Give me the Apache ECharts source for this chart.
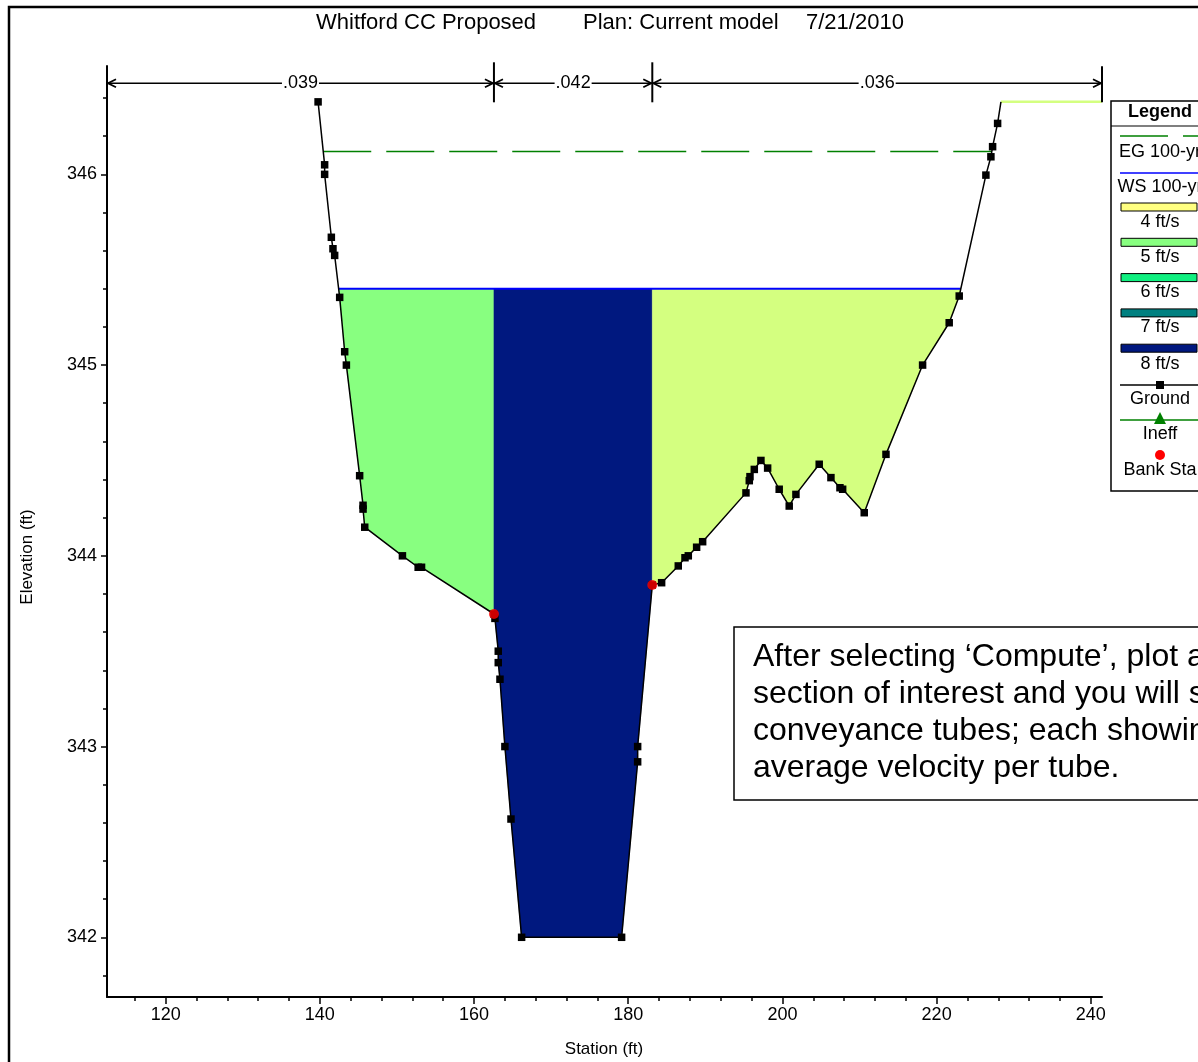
<!DOCTYPE html>
<html><head><meta charset="utf-8">
<script src="https://cdn.jsdelivr.net/npm/echarts@6/dist/echarts.min.js"></script>
<style>html,body{margin:0;padding:0;background:#fff}#c{width:1198px;height:1062px}</style>
</head><body><div id="c"></div>
<script>
// ---------------- DATA ----------------
const groundStation = [139.77,140.62,140.62,141.49,141.70,141.92,142.57,143.22,143.44,145.16,145.60,145.60,145.82,150.71,152.75,153.19,
  162.58,162.71,163.14,163.14,163.36,164.00,164.79,166.17,179.14,181.22,181.22,183.12,
  184.33,186.49,187.36,187.79,188.87,189.65,195.27,195.70,195.79,196.35,197.21,198.08,199.58,200.88,201.75,204.77,206.29,207.46,207.81,210.61,213.43,218.18,221.63,222.93,
  226.39,227.04,227.26,227.91,228.34];
const groundElev = [346.38,346.05,346.00,345.67,345.61,345.575,345.355,345.07,345.00,344.42,344.265,344.245,344.15,344.00,343.94,343.94,
  343.695,343.672,343.50,343.44,343.353,343.00,342.62,342.00,342.00,342.92,343.00,343.847,
  343.859,343.947,343.99,344.00,344.045,344.074,344.33,344.394,344.415,344.453,344.50,344.46,344.349,344.261,344.322,344.48,344.41,344.357,344.349,344.226,344.532,345.00,345.222,345.362,
  345.996,346.092,346.145,346.267,346.38];
const groundExtStation = [228.34, 241.45];
const groundExtElev = [346.38, 346.38];
const bankStations = [162.58, 183.12];
const bankElev = [343.695, 343.847];
const wsElev = 345.40;
const egElev = 346.12;
const nValues = ['.039', '.042', '.036'];
const xTickValues = [120, 140, 160, 180, 200, 220, 240];
const yTickValues = [342, 343, 344, 345, 346];
const legendLabels = ['EG 100-yr', 'WS 100-yr', '4 ft/s', '5 ft/s', '6 ft/s', '7 ft/s', '8 ft/s', 'Ground', 'Ineff', 'Bank Sta'];
const titleParts = ['Whitford CC Proposed', 'Plan: Current model', '7/21/2010'];
const noteLines = ['After selecting \u2018Compute\u2019, plot a cross', 'section of interest and you will see', 'conveyance tubes; each showing', 'average velocity per tube.'];

// ---------------- STYLE / LAYOUT ----------------
const XMIN = 112.39, XMAX = 241.45, YMIN = 341.687, YMAX = 346.568;
const FONT = '"Liberation Sans", Arial, sans-serif';
const tubeColors = ['#88FF80', '#00187F', '#D4FF80'];
const legendSwatchColors = ['#FFFF80', '#88FF80', '#10F080', '#008080', '#00187F'];

const ground = groundStation.map((s, i) => [s, groundElev[i]]);
ground[ground.length - 1] = { value: ground[ground.length - 1], symbol: 'none' };
const gPts = groundStation.map((s, i) => [s, groundElev[i]]);

function crossLeft(e) {
  for (let i = 0; i < gPts.length - 1; i++) {
    const a = gPts[i], b = gPts[i + 1];
    if (a[1] >= e && b[1] < e) return a[0] + (a[1] - e) / (a[1] - b[1]) * (b[0] - a[0]);
  }
}
function crossRight(e) {
  for (let i = gPts.length - 2; i >= 0; i--) {
    const a = gPts[i], b = gPts[i + 1];
    if (a[1] < e && b[1] >= e) return a[0] + (e - a[1]) / (b[1] - a[1]) * (b[0] - a[0]);
  }
}
const wsL = crossLeft(wsElev), wsR = crossRight(wsElev);
const egL = crossLeft(egElev), egR = crossRight(egElev);
const bounds = [wsL, bankStations[0], bankStations[1], wsR];
const polygons = [];
for (let k = 0; k < 3; k++) {
  const a = bounds[k], b = bounds[k + 1];
  const poly = [[a, wsElev]];
  gPts.forEach(p => { if (p[0] >= a && p[0] <= b) poly.push(p); });
  poly.push([b, wsElev]);
  polygons.push(poly);
}
const nBounds = [XMIN, bankStations[0], bankStations[1], XMAX];

const minorX = [];
for (let v = 116; v <= 240; v += 4) if (v % 20 !== 0) minorX.push(v);
const minorY = [];
for (let i = 3418; i <= 3464; i += 2) { if (i % 10 !== 0) minorY.push(i / 10); }

const chart = echarts.init(document.getElementById('c'), null, { renderer: 'canvas' });
const grid = { left: 107, top: 66, width: 995, height: 931 };

const axisCommon = {
  type: 'value', splitLine: { show: false }
};

const graphics = [];
// outer border
graphics.push({ type: 'rect', shape: { x: 9, y: 7, width: 1250, height: 1100 }, style: { fill: 'none', stroke: '#000', lineWidth: 2.5 }, z: 200 });
// title
[316, 583, 806].forEach((x, i) => graphics.push({ type: 'text', x: x, y: 23, style: { text: titleParts[i], font: '22px ' + FONT, fill: '#000', verticalAlign: 'middle', align: 'left' }, z: 200 }));
// axis names
graphics.push({ type: 'text', x: 604, y: 1049, style: { text: 'Station (ft)', font: '17px ' + FONT, fill: '#000', align: 'center', verticalAlign: 'middle' }, z: 200 });
graphics.push({ type: 'text', x: 27, y: 557, rotation: Math.PI / 2, style: { text: 'Elevation (ft)', font: '17px ' + FONT, fill: '#000', align: 'center', verticalAlign: 'middle' }, z: 200 });
// annotation box
graphics.push({ type: 'rect', shape: { x: 734, y: 627, width: 600, height: 173 }, style: { fill: '#fff', stroke: '#000', lineWidth: 1.5 }, z: 150 });
graphics.push({ type: 'text', x: 753, y: 639, style: { text: noteLines.join('\n'), font: '32px ' + FONT, lineHeight: 37, fill: '#000', align: 'left', verticalAlign: 'top' }, z: 151 });
// legend
const LX = 1160;
graphics.push({ type: 'rect', shape: { x: 1111, y: 101, width: 110, height: 390 }, style: { fill: '#fff', stroke: '#000', lineWidth: 1.5 }, z: 150 });
graphics.push({ type: 'line', shape: { x1: 1111, y1: 126, x2: 1230, y2: 126 }, style: { stroke: '#000', lineWidth: 1.2 }, z: 151 });
graphics.push({ type: 'text', x: LX, y: 112, style: { text: 'Legend', font: 'bold 18px ' + FONT, fill: '#000', align: 'center', verticalAlign: 'middle' }, z: 151 });
const textY = [152, 187, 222, 257, 292, 327, 364, 399, 434, 470];
legendLabels.forEach((t, i) => graphics.push({ type: 'text', x: LX, y: textY[i], style: { text: t, font: '18px ' + FONT, fill: '#000', align: 'center', verticalAlign: 'middle' }, z: 151 }));
graphics.push({ type: 'line', shape: { x1: 1120, y1: 136, x2: 1230, y2: 136 }, style: { stroke: '#008000', lineWidth: 1.5, lineDash: [48, 15] }, z: 151 });
graphics.push({ type: 'line', shape: { x1: 1120, y1: 173, x2: 1230, y2: 173 }, style: { stroke: '#0000FF', lineWidth: 1.5 }, z: 151 });
legendSwatchColors.forEach((c, i) => graphics.push({ type: 'rect', shape: { x: 1121, y: 203 + 35.3 * i, width: 76, height: 8 }, style: { fill: c, stroke: '#000', lineWidth: 1 }, z: 151 }));
graphics.push({ type: 'line', shape: { x1: 1120, y1: 385, x2: 1230, y2: 385 }, style: { stroke: '#000', lineWidth: 1.5 }, z: 151 });
graphics.push({ type: 'rect', shape: { x: LX - 4, y: 381, width: 8, height: 8 }, style: { fill: '#000' }, z: 152 });
graphics.push({ type: 'line', shape: { x1: 1120, y1: 420, x2: 1230, y2: 420 }, style: { stroke: '#008000', lineWidth: 1.5 }, z: 151 });
graphics.push({ type: 'polygon', shape: { points: [[LX, 412], [LX - 6, 424], [LX + 6, 424]] }, style: { fill: '#008000' }, z: 152 });
graphics.push({ type: 'circle', shape: { cx: LX, cy: 455, r: 5 }, style: { fill: '#FF0000' }, z: 152 });

const option = {
  backgroundColor: '#fff',
  animation: false,
  grid: grid,
  xAxis: [
    Object.assign({}, axisCommon, {
      min: XMIN, max: XMAX, position: 'bottom',
      axisLine: { show: true, lineStyle: { color: '#000', width: 2 } },
      axisTick: { show: true, customValues: xTickValues, length: 7, lineStyle: { color: '#000', width: 1.5 } },
      axisLabel: { show: true, customValues: xTickValues, color: '#000', fontSize: 18, fontFamily: FONT, margin: 9 }
    }),
    Object.assign({}, axisCommon, {
      min: XMIN, max: XMAX, position: 'bottom',
      axisLine: { show: false },
      axisTick: { show: true, customValues: minorX, length: 4, lineStyle: { color: '#000', width: 1.5 } },
      axisLabel: { show: false }
    })
  ],
  yAxis: [
    Object.assign({}, axisCommon, {
      min: YMIN, max: YMAX, position: 'left',
      axisLine: { show: true, lineStyle: { color: '#000', width: 2 } },
      axisTick: { show: true, customValues: yTickValues, length: 6, lineStyle: { color: '#000', width: 1.5 } },
      axisLabel: { show: true, customValues: yTickValues, color: '#000', fontSize: 18, fontFamily: FONT, margin: 10 }
    }),
    Object.assign({}, axisCommon, {
      min: YMIN, max: YMAX, position: 'left',
      axisLine: { show: false },
      axisTick: { show: true, customValues: minorY, length: 4, lineStyle: { color: '#000', width: 1.5 } },
      axisLabel: { show: false }
    })
  ],
  graphic: graphics,
  series: [
    {
      type: 'custom', name: 'tubes', silent: true, z: 1,
      data: polygons.map(p => p[0]),
      renderItem: function (params, api) {
        const pts = polygons[params.dataIndex].map(p => api.coord(p));
        return { type: 'polygon', shape: { points: pts }, style: { fill: tubeColors[params.dataIndex], stroke: tubeColors[params.dataIndex], lineWidth: 0.5 } };
      }
    },
    {
      type: 'line', name: 'WS', silent: true, z: 3, symbol: 'none',
      data: [[wsL, wsElev], [wsR, wsElev]],
      lineStyle: { color: '#0000FF', width: 2 }
    },
    {
      type: 'line', name: 'EG', silent: true, z: 3, symbol: 'none',
      data: [[egL, egElev], [egR, egElev]],
      lineStyle: { color: '#008000', width: 1.5, type: [48, 15] }
    },
    {
      type: 'line', name: 'GroundExt', silent: true, z: 3, symbol: 'none',
      data: groundExtStation.map((s, i) => [s, groundExtElev[i]]),
      lineStyle: { color: '#D4FF80', width: 2.5 }
    },
    {
      type: 'line', name: 'Ground', silent: true, z: 4,
      data: ground, symbol: 'rect', symbolSize: 7.5, showAllSymbol: true,
      lineStyle: { color: '#000', width: 1.5 }, itemStyle: { color: '#000' }
    },
    {
      type: 'scatter', name: 'Bank', silent: true, z: 5,
      data: bankStations.map((s, i) => [s, bankElev[i]]),
      symbol: 'circle', symbolSize: 10, itemStyle: { color: '#FF0000' }
    },
    {
      type: 'custom', name: 'nvalues', silent: true, z: 6,
      data: nValues.map((v, i) => [nBounds[i], YMAX]),
      renderItem: function (params, api) {
        const i = params.dataIndex;
        const x0 = api.coord([nBounds[i], YMAX])[0];
        const x1 = api.coord([nBounds[i + 1], YMAX])[0];
        const y = params.coordSys.y + 17.3;
        const children = [
          { type: 'line', shape: { x1: x0, y1: y, x2: x1, y2: y }, style: { stroke: '#000', lineWidth: 1.5 } },
          { type: 'polyline', shape: { points: [[x0 + 9, y - 4], [x0 + 1, y], [x0 + 9, y + 4]] }, style: { stroke: '#000', lineWidth: 1.8, fill: null } },
          { type: 'polyline', shape: { points: [[x1 - 9, y - 4], [x1 - 1, y], [x1 - 9, y + 4]] }, style: { stroke: '#000', lineWidth: 1.8, fill: null } },
          { type: 'text', x: (x0 + x1) / 2, y: y, style: { text: nValues[i], font: '18px ' + FONT, fill: '#000', align: 'center', verticalAlign: 'middle', backgroundColor: '#fff', padding: [0, 1] } }
        ];
        const top = i < nValues.length - 1 ? y - 21 : y - 17;
        children.push({ type: 'line', shape: { x1: x1, y1: top, x2: x1, y2: y + 19 }, style: { stroke: '#000', lineWidth: 2 } });
        return { type: 'group', children: children };
      }
    }
  ]
};
chart.setOption(option);
</script>
</body></html>
